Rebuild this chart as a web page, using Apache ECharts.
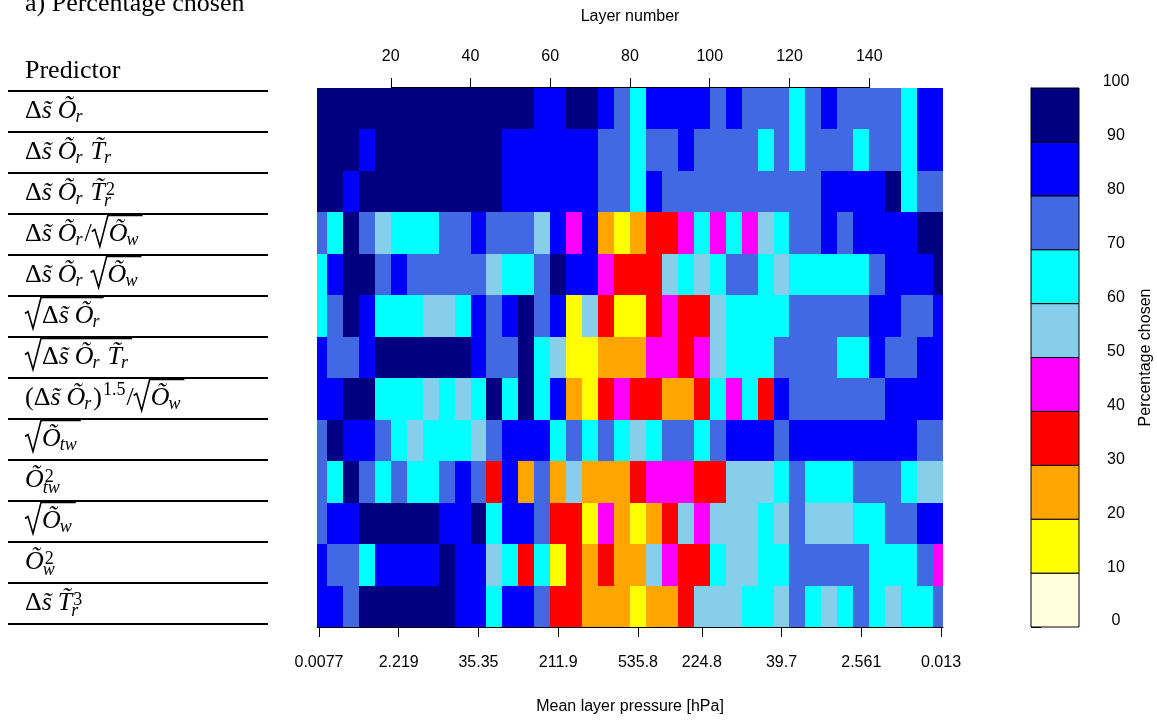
<!DOCTYPE html>
<html>
<head>
<meta charset="utf-8">
<script src="https://cdn.jsdelivr.net/npm/echarts@6/dist/echarts.min.js"></script>
<style>
html,body{margin:0;padding:0;background:#fff;}
#c{width:1157px;height:720px;}
</style>
</head>
<body>
<div id="c"></div>
<script>
// ---------------- DATA ----------------
// Predictor labels (mini markup: _ sub, ^ sup, √{..} square root, \u0303 = tilde)
const predictors = [
  "\u0394s\u0303 \u00D5_r",
  "\u0394s\u0303 \u00D5_r T\u0303_r",
  "\u0394s\u0303 \u00D5_r T\u0303_r^2",
  "\u0394s\u0303 \u00D5_r/\u221A{\u00D5_w}",
  "\u0394s\u0303 \u00D5_r \u221A{\u00D5_w}",
  "\u221A{\u0394s\u0303 \u00D5_r}",
  "\u221A{\u0394s\u0303 \u00D5_r T\u0303_r}",
  "(\u0394s\u0303 \u00D5_r)^{1.5}/\u221A{\u00D5_w}",
  "\u221A{\u00D5_{tw}}",
  "\u00D5_{tw}^2",
  "\u221A{\u00D5_w}",
  "\u00D5_w^2",
  "\u0394s\u0303 T\u0303_r^3"
];

// Layer blocks (each block covers 4 layers, starting at these layer numbers)
const blockStartLayers = [0,4,8,12,16,20,24,28,32,36,40,44,48,52,56,60,64,68,72,76,
                          80,84,88,92,96,100,104,108,112,116,120,124,128,132,136,140,144,148,152,156];

// Percentage chosen per predictor, per layer block
const pct_dsOr        = [95,95,95,95,95,95,95,95,95,95,95,95,95,95,85,85,95,95,85,75,65,85,85,85,85,75,85,75,75,75,65,75,85,75,75,75,75,65,85,85];
const pct_dsOrTr      = [95,95,95,85,95,95,95,95,95,95,95,95,85,85,85,85,85,85,75,75,65,75,75,85,75,75,75,75,65,75,65,75,75,75,65,75,75,65,85,85];
const pct_dsOrTr2     = [95,95,85,95,95,95,95,95,95,95,95,95,85,85,85,85,85,85,75,75,65,85,75,75,75,75,75,75,75,75,75,75,85,85,85,85,95,65,75,75];
const pct_dsOrDivSqOw = [75,65,95,75,55,65,65,65,75,75,85,75,75,75,55,85,45,85,25,15,25,35,35,45,65,45,65,45,55,65,75,75,85,75,85,85,85,85,95,95];
const pct_dsOrSqOw    = [65,85,95,95,75,85,75,75,75,75,75,55,65,65,75,95,85,85,45,35,35,35,55,65,55,65,75,75,65,55,65,65,65,65,65,75,85,85,85,95];
const pct_sqDsOr      = [65,75,95,85,65,65,65,55,55,65,85,75,85,95,75,85,15,55,35,15,15,35,45,35,35,55,65,65,65,65,75,75,75,75,75,85,85,75,75,85];
const pct_sqDsOrTr    = [85,75,75,85,95,95,95,95,95,95,85,75,75,95,65,55,15,15,25,25,25,45,45,35,45,55,65,65,65,75,75,75,75,65,65,85,75,75,85,85];
const pct_dsOr15      = [85,85,95,95,65,65,65,55,65,55,65,95,65,95,65,85,25,15,35,45,35,35,25,25,35,65,45,65,35,85,75,75,75,75,75,75,85,85,85,85];
const pct_sqOtw       = [75,95,85,85,75,65,55,65,65,65,55,75,85,85,85,65,75,65,75,65,55,65,75,75,65,75,85,85,85,75,85,85,85,85,85,85,85,85,75,75];
const pct_Otw2        = [75,65,95,75,65,75,65,65,75,85,75,35,85,25,75,25,55,25,25,25,35,45,45,45,35,35,55,55,55,65,75,65,65,65,75,75,75,65,55,55];
const pct_sqOw        = [75,85,85,95,95,95,95,95,85,85,95,65,85,85,75,35,35,15,45,25,15,25,35,55,45,55,55,55,65,55,75,55,55,55,65,65,75,75,85,85];
const pct_Ow2         = [85,75,75,65,85,85,85,85,95,85,85,55,65,35,65,15,35,25,35,25,25,55,45,35,35,65,55,55,65,65,75,75,75,75,75,65,65,65,75,45];
const pct_dsTr3       = [85,85,75,95,95,95,95,95,95,85,85,65,85,85,75,35,35,25,25,25,15,25,25,35,55,55,55,65,65,55,75,65,55,65,75,65,55,65,65,75];

const pctRows = [pct_dsOr, pct_dsOrTr, pct_dsOrTr2, pct_dsOrDivSqOw, pct_dsOrSqOw, pct_sqDsOr,
                 pct_sqDsOrTr, pct_dsOr15, pct_sqOtw, pct_Otw2, pct_sqOw, pct_Ow2, pct_dsTr3];

// Axis ticks
const layerTicks = [20,40,60,80,100,120,140];
const pressureTickLayers = [2,22,42,62,82,98,118,138,158];
const pressureTickLabels = ['0.0077','2.219','35.35','211.9','535.8','224.8','39.7','2.561','0.013'];

// Colour scale
const colorBreaks = [0,10,20,30,40,50,60,70,80,90,100];
const colorList = ['#FFFFE0','#FFFF00','#FFA500','#FF0000','#FF00FF','#87CEEB','#00FFFF','#4169E1','#0000FF','#000080'];

// ---------------- BUILD ----------------
const X_MIN = 1.5, X_MAX = 158.5, BLOCK = 4;
function colorFor(v){
  for (let i = 0; i < colorBreaks.length - 1; i++) {
    if (v >= colorBreaks[i] && v < colorBreaks[i+1]) return colorList[i];
  }
  return colorList[colorList.length-1];
}
const cells = [];
pctRows.forEach((vals, r) => {
  vals.forEach((v, k) => cells.push([blockStartLayers[k], blockStartLayers[k] + BLOCK, r, v]));
});
const barCells = colorBreaks.slice(0, -1).map((lo, i) => [lo, colorBreaks[i+1], i]);

const chart = echarts.init(document.getElementById('c'), null, {renderer: 'canvas', width: 1157, height: 720});

const axisFont = {fontSize: 16, color: '#000', fontFamily: '"Liberation Sans", Arial, sans-serif'};

chart.setOption({
  animation: false,
  backgroundColor: '#ffffff',
  textStyle: {fontFamily: '"Liberation Sans", Arial, sans-serif', color: '#000'},
  grid: [
    {left: 317, top: 88, width: 626, height: 539},
    {left: 1031, top: 88, width: 48, height: 539}
  ],
  xAxis: [
    {
      gridIndex: 0, type: 'value', position: 'bottom', min: X_MIN, max: X_MAX,
      splitLine: {show: false},
      axisLine: {show: true, onZero: false, lineStyle: {color: '#000', width: 1}},
      axisTick: {show: true, length: 10, lineStyle: {color: '#000', width: 1}, customValues: pressureTickLayers},
      axisLabel: Object.assign({show: true, margin: 28, customValues: pressureTickLayers,
        formatter: v => { const i = pressureTickLayers.indexOf(v); return i >= 0 ? pressureTickLabels[i] : ''; }}, axisFont),
      name: 'Mean layer pressure [hPa]', nameLocation: 'middle', nameGap: 80,
      nameTextStyle: Object.assign({verticalAlign: 'middle'}, axisFont)
    },
    {
      gridIndex: 0, type: 'value', position: 'top', min: X_MIN, max: X_MAX,
      splitLine: {show: false},
      axisLine: {show: false},
      axisTick: {show: true, length: 10, lineStyle: {color: '#000', width: 1}, customValues: layerTicks},
      axisLabel: Object.assign({show: true, margin: 23, customValues: layerTicks}, axisFont),
      name: 'Layer number', nameLocation: 'middle', nameGap: 71,
      nameTextStyle: Object.assign({verticalAlign: 'middle'}, axisFont)
    },
    {gridIndex: 1, type: 'value', min: 0, max: 1, show: false,
     axisLine: {show: false}, axisTick: {show: false}, axisLabel: {show: false}, splitLine: {show: false}}
  ],
  yAxis: [
    {gridIndex: 0, type: 'value', min: 0, max: pctRows.length, inverse: true, show: false},
    {
      gridIndex: 1, type: 'value', min: 0, max: 100, interval: 10, position: 'right',
      splitLine: {show: false},
      axisLine: {show: true, lineStyle: {color: '#000', width: 1}},
      axisTick: {show: true, length: 10, lineStyle: {color: '#000', width: 1}},
      axisLabel: Object.assign({show: true, margin: 37, align: 'center', verticalAlign: 'bottom', lineHeight: 12}, axisFont),
      name: 'Percentage chosen', nameLocation: 'middle', nameRotate: 90, nameGap: 67,
      nameTextStyle: Object.assign({verticalAlign: 'middle', align: 'center'}, axisFont)
    }
  ],
  series: [
    {
      type: 'custom', xAxisIndex: 0, yAxisIndex: 0,
      encode: {x: [0, 1], y: 2},
      data: cells,
      renderItem: function (params, api) {
        const x0 = Math.max(api.value(0), X_MIN), x1 = Math.min(api.value(1), X_MAX);
        const r = api.value(2);
        const p0 = api.coord([x0, r]), p1 = api.coord([x1, r + 1]);
        const L = Math.round(p0[0]), R = Math.round(p1[0]);
        const T = Math.round(p0[1]), B = Math.round(p1[1]);
        return {type: 'rect', shape: {x: L, y: T, width: R - L, height: B - T},
                style: {fill: colorFor(api.value(3))}};
      }
    },
    {
      type: 'custom', xAxisIndex: 2, yAxisIndex: 1,
      encode: {y: [0, 1]},
      data: barCells,
      renderItem: function (params, api) {
        const pTop = api.coord([0, api.value(1)]), pBot = api.coord([1, api.value(0)]);
        return {type: 'rect', shape: {x: pTop[0], y: pTop[1], width: pBot[0] - pTop[0], height: pBot[1] - pTop[1]},
                style: {fill: colorList[api.value(2)], stroke: '#000', lineWidth: 1}};
      }
    }
  ]
});

// ---------------- LEFT TABLE (math labels) ----------------
const SERIF = '"Liberation Serif", "Times New Roman", "DejaVu Serif", serif';
const FS = 26, SFS = 18;
const mctx = document.createElement('canvas').getContext('2d');
function fontOf(italic, size){ return (italic ? 'italic ' : '') + size + 'px ' + SERIF; }
function measure(t, f){ mctx.font = f; return mctx.measureText(t).width; }
function isItalic(t){ return /[A-Za-z\u00C0-\u024F]/.test(t[0]); }
function textEl(t, x, b, f, size){
  return {type: 'text', x: x, y: b - 0.3 * size, silent: true, z: 10,
          style: {text: t, font: f, fill: '#000', align: 'left', verticalAlign: 'middle',
                  textAlign: 'left', textVerticalAlign: 'middle'}};
}
function parseMath(s){
  const ch = Array.from(s);
  let i = 0;
  function atom(){
    let c = ch[i++];
    while (i < ch.length && /[\u0300-\u036f]/.test(ch[i])) c += ch[i++];
    return c;
  }
  function group(){
    if (ch[i] === '{') { i++; let g = ''; while (ch[i] !== '}') g += ch[i++]; i++; return g; }
    return atom();
  }
  function seq(){
    const items = [];
    while (i < ch.length) {
      const c = ch[i];
      if (c === '}') { i++; break; }
      if (c === '\u221A') { i += 2; items.push({k: 'sqrt', body: seq()}); continue; }
      if (c === '_') { i++; items[items.length-1].sub = group(); continue; }
      if (c === '^') { i++; items[items.length-1].sup = group(); continue; }
      if (c === ' ') { i++; items.push({k: 'sp'}); continue; }
      items.push({k: 'ch', t: atom()});
    }
    return items;
  }
  return seq();
}
function place(items, x, b, out){
  for (const it of items) {
    if (it.k === 'sp') { x += 6; continue; }
    if (it.k === 'sqrt') {
      const top = b - 26;
      const end = place(it.body, x + 17, b, out);
      out.push({type: 'polyline', silent: true, z: 10,
        shape: {points: [[x, b - 10], [x + 3, b - 12], [x + 8, b + 5], [x + 16, top], [end + 2, top]]},
        style: {stroke: '#000', lineWidth: 1.6, fill: null}});
      x = end + 3;
      continue;
    }
    const ital = isItalic(it.t);
    const f = fontOf(ital, FS);
    out.push(textEl(it.t, x, b, f, FS));
    x += measure(it.t, f);
    if (it.sub || it.sup) {
      const both = it.sub && it.sup;
      let w = 0;
      if (it.sup) {
        const sf = fontOf(isItalic(it.sup), SFS);
        out.push(textEl(it.sup, x + 1, b - (both ? 4.5 : 10), sf, SFS));
        w = Math.max(w, measure(it.sup, sf) + 1);
      }
      if (it.sub) {
        const sf = fontOf(isItalic(it.sub), SFS);
        out.push(textEl(it.sub, x - (ital ? 1 : 0), b + (both ? 6.5 : 4), sf, SFS));
        w = Math.max(w, measure(it.sub, sf));
      }
      x += w + 1;
    }
  }
  return x;
}

const gfx = [];
// title and header
gfx.push(textEl('a) Percentage chosen', 25, 12, fontOf(false, FS), FS));
gfx.push(textEl('Predictor', 25, 79, fontOf(false, FS), FS));
// separator lines
for (let k = 0; k <= predictors.length; k++) {
  const y = 91 + 41 * k;
  gfx.push({type: 'line', silent: true, shape: {x1: 8, y1: y, x2: 268, y2: y},
            style: {stroke: '#000', lineWidth: 2}});
}
predictors.forEach((p, k) => { place(parseMath(p), 25, 118.5 + 41 * k, gfx); });

// top axis line (spans first to last layer tick, R style)
const tx0 = chart.convertToPixel({xAxisIndex: 1}, layerTicks[0]);
const tx1 = chart.convertToPixel({xAxisIndex: 1}, layerTicks[layerTicks.length - 1]);
gfx.push({type: 'line', silent: true, z: 20, shape: {x1: tx0, y1: 87.5, x2: tx1, y2: 87.5},
          style: {stroke: '#000', lineWidth: 1}});

chart.setOption({graphic: {elements: gfx}});
</script>
</body>
</html>
